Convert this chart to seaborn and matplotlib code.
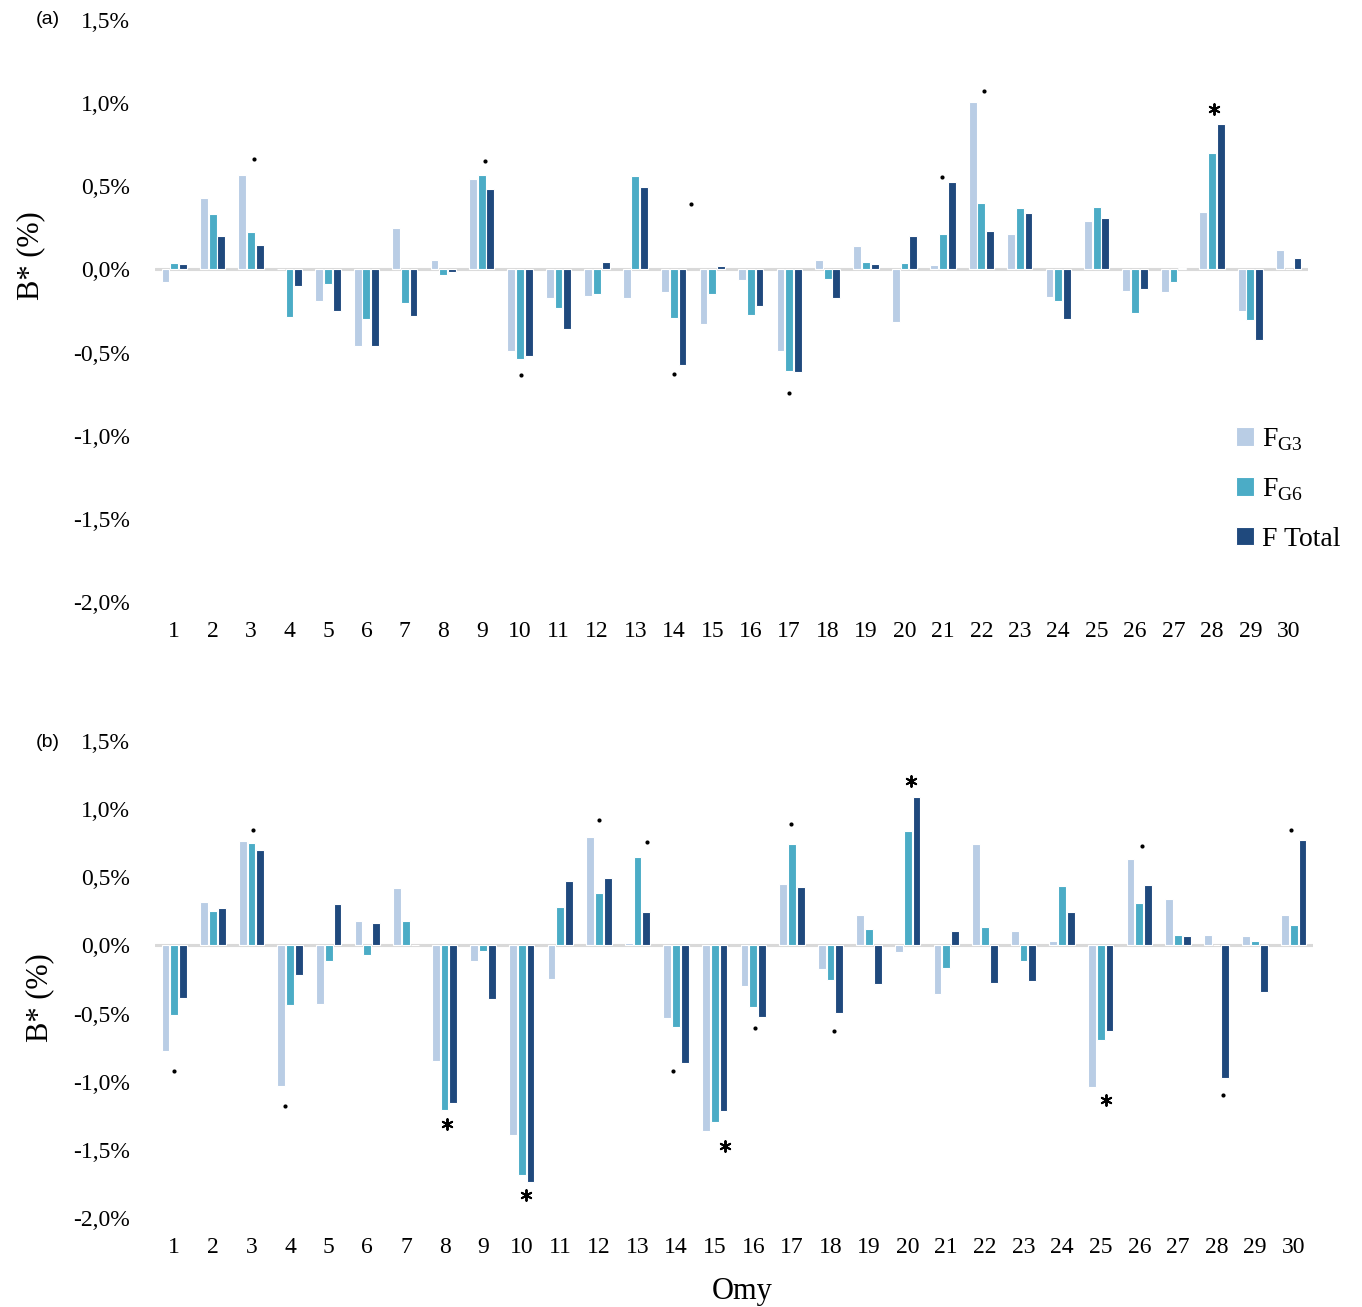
import numpy as np
import pandas as pd
import matplotlib
matplotlib.use("Agg")
import matplotlib.pyplot as plt
import seaborn as sns
from matplotlib.ticker import FuncFormatter

# ---------------- data (values in %) ----------------
omy = [str(i) for i in range(1, 31)]
series = ["F$_{\\mathregular{G3}}$", "F$_{\\mathregular{G6}}$", "F Total"]

fg3_a = [-0.078, 0.427, 0.565, 0.0, -0.192, -0.463, 0.247, 0.058, 0.543, -0.491,
         -0.172, -0.162, -0.172, -0.136, -0.331, -0.064, -0.491, 0.056, 0.140, -0.315,
         0.024, 1.008, 0.216, -0.164, 0.291, -0.130, -0.136, 0.343, -0.253, 0.114]
fg6_a = [0.036, 0.331, 0.227, -0.285, -0.090, -0.299, -0.204, -0.034, 0.569, -0.541,
         -0.233, -0.146, 0.563, -0.295, -0.148, -0.277, -0.609, -0.058, 0.044, 0.038,
         0.215, 0.397, 0.371, -0.188, 0.375, -0.261, -0.076, 0.702, -0.303, 0.0]
ftot_a = [0.030, 0.200, 0.146, -0.100, -0.247, -0.461, -0.278, -0.016, 0.481, -0.523,
          -0.361, 0.042, 0.493, -0.575, 0.020, -0.218, -0.615, -0.170, 0.030, 0.200,
          0.527, 0.230, 0.341, -0.299, 0.311, -0.120, 0.008, 0.872, -0.427, 0.068]

fg3_b = [-0.778, 0.316, 0.765, -1.030, -0.430, 0.179, 0.423, -0.849, -0.115, -1.394,
         -0.249, 0.797, 0.020, -0.533, -1.360, -0.301, 0.453, -0.174, 0.223, -0.046,
         -0.360, 0.744, 0.103, 0.029, -1.042, 0.631, 0.342, 0.078, 0.068, 0.223]
fg6_b = [-0.514, 0.254, 0.748, -0.438, -0.117, -0.071, 0.176, -1.206, -0.044, -1.688,
         0.284, 0.386, 0.651, -0.602, -1.294, -0.455, 0.741, -0.252, 0.117, 0.839,
         -0.166, 0.132, -0.117, 0.435, -0.692, 0.311, 0.073, 0.0, 0.034, 0.147]
ftot_b = [-0.389, 0.271, 0.700, -0.218, 0.303, 0.166, 0.0, -1.157, -0.391, -1.734,
          0.472, 0.494, 0.247, -0.863, -1.216, -0.526, 0.428, -0.499, -0.286, 1.086,
          0.108, -0.276, -0.262, 0.247, -0.631, 0.443, 0.068, -0.973, -0.340, 0.775]

# significance marks: x position (category index), y value (%), symbol
sig_a_x = [2.08, 8.08, 9.02, 13.45, 13.0, 16.0, 19.97, 21.07, 27.06]
sig_a_y = [0.663, 0.655, -0.633, 0.391, -0.631, -0.744, 0.555, 1.076, 0.962]
sig_a_s = [".", ".", ".", ".", ".", ".", ".", ".", "*"]

sig_b_x = [-0.02, 2.03, 2.88, 7.07, 9.11, 11.01, 12.24, 12.92, 14.27, 15.05, 15.98,
           17.09, 19.08, 24.15, 25.06, 27.17, 28.94]
sig_b_y = [-0.924, 0.849, -1.181, -1.31, -1.829, 0.917, 0.756, -0.924, -1.47, -0.604,
           0.891, -0.626, 1.203, -1.132, 0.729, -1.095, 0.849]
sig_b_s = [".", ".", ".", "*", "*", ".", ".", ".", "*", ".", ".", ".", "*", "*", ".", ".", "."]

yticks = [-2.0, -1.5, -1.0, -0.5, 0.0, 0.5, 1.0, 1.5]
colors = ["#B9CDE5", "#4BACC6", "#1F497D"]

# ---------------- style ----------------
sns.set_theme(style="white")
plt.rcParams["font.family"] = ["Liberation Serif", "DejaVu Serif"]
plt.rcParams["mathtext.fontset"] = "custom"
plt.rcParams["mathtext.rm"] = "Liberation Serif"
for k in ["text.color", "axes.labelcolor", "xtick.color", "ytick.color"]:
    plt.rcParams[k] = "black"


def long_df(a, b, c):
    return pd.DataFrame({
        "Omy": omy * 3,
        "serie": [series[0]] * 30 + [series[1]] * 30 + [series[2]] * 30,
        "value": list(a) + list(b) + list(c),
    })


df_a = long_df(fg3_a, fg6_a, ftot_a)
df_b = long_df(fg3_b, fg6_b, ftot_b)

W, H = 1362, 1307
fig = plt.figure(figsize=(W / 100, H / 100), dpi=100)
ax_a = fig.add_axes([155 / W, 1 - 602 / H, (1308 - 155) / W, 582 / H])
ax_b = fig.add_axes([155 / W, 1 - 1218 / H, (1313 - 155) / W, 477 / H])

fmt = FuncFormatter(lambda v, p: f"{v:.1f}%".replace(".", ","))

for ax, df, sx, sy, ss in [(ax_a, df_a, sig_a_x, sig_a_y, sig_a_s),
                           (ax_b, df_b, sig_b_x, sig_b_y, sig_b_s)]:
    ax.axhline(0, color="#D9D9D9", lw=2.2, zorder=0.5)
    sns.barplot(data=df, x="Omy", y="value", hue="serie", order=omy,
                hue_order=series, palette=colors, saturation=1, width=0.68, gap=0.1,
                edgecolor="white", linewidth=0.8, errorbar=None, ax=ax,
                legend=(ax is ax_a), zorder=2)
    ax.set_xlim(-0.5, 29.5)
    ax.set_ylim(-2.0, 1.5)
    ax.set_yticks(yticks)
    ax.yaxis.set_major_formatter(fmt)
    ax.tick_params(axis="both", length=0, labelsize=17)
    ax.tick_params(axis="x", pad=14)
    ax.tick_params(axis="y", pad=18)
    for s in ax.spines.values():
        s.set_visible(False)
    ax.set_xlabel("")
    ax.set_ylabel("B* (%)", fontsize=22, va="center")
    # significance marks
    for x, y, s in zip(sx, sy, ss):
        if s == ".":
            ax.scatter([x], [y], s=9, color="black", marker="o", zorder=3, linewidths=0)
        else:
            ax.scatter([x], [y], s=60, color="black", marker=(6, 2, 0), zorder=3,
                       linewidths=1.4)

ax_a.yaxis.set_label_coords(-0.1075, 0.596)
ax_b.yaxis.set_label_coords(-0.0993, 0.463)

fig.text(48 / W, 1 - 20 / H, "(a)", fontsize=14, family="Liberation Sans",
         ha="center", va="center")
fig.text(48 / W, 1 - 742 / H, "(b)", fontsize=14, family="Liberation Sans",
         ha="center", va="center")
fig.text(742 / W, 1 - 1299 / H, "Omy", fontsize=22, ha="center", va="baseline")

leg = ax_a.legend(loc="upper left", bbox_to_anchor=(1236 / W, 1 - 426 / H),
                  bbox_transform=fig.transFigure, frameon=False, fontsize=20,
                  handlelength=0.65, handleheight=0.65, handletextpad=0.3,
                  labelspacing=0.85, borderpad=0, borderaxespad=0, title=None)

fig.savefig("out.png", dpi=100)
